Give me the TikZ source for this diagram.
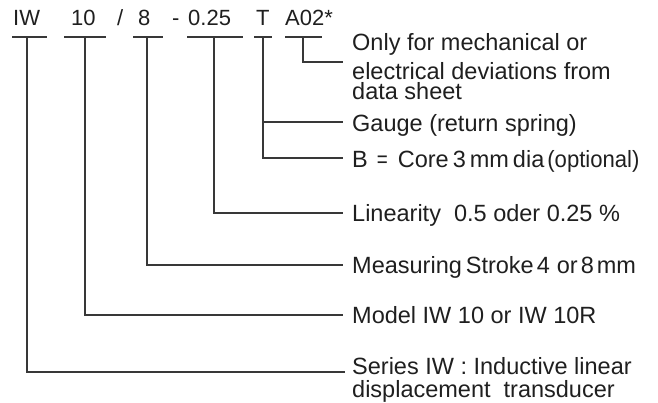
\documentclass[tikz,border=0pt]{standalone}
\usepackage{fontspec}
\usepackage{graphicx}
\setmainfont{Liberation Sans}
\begin{document}
\begin{tikzpicture}[x=1pt,y=-1pt,
  ln/.style={line width=1.2pt,draw=black!78},
  code/.style={inner sep=0pt,anchor=base west,font=\fontsize{22}{26}\selectfont,text=black!88},
  desc/.style={inner sep=0pt,anchor=base west,align=left,font=\fontsize{23.5}{24}\selectfont,text=black!88}]
\useasboundingbox (0,0) rectangle (658,403);
% top code
\node[code] (cIW)  at (13,26)  {IW};
\node[code] (c10)  at (71,26)  {10};
\node[code] (csl)  at (117,26) {/};
\node[code] (c8)   at (138,26) {8};
\node[code] (cdash) at (172,26) {-};
\node[code] (c025) at (188,26) {0.25};
\node[code] (cT)   at (256,26) {T};
\node[code] (cA)   at (285,26) {A02*};
% bars
\draw[ln] (12,37) -- (47,37);
\draw[ln] (64,37) -- (106,37);
\draw[ln] (133,37) -- (163,37);
\draw[ln] (187,37) -- (243,37);
\draw[ln] (254,37) -- (272,37);
\draw[ln] (285,37) -- (322,37);
% stem tops
\coordinate (sIW)  at (27,37);
\coordinate (s10)  at (85,37);
\coordinate (s8)   at (147,37);
\coordinate (s025) at (214,37);
\coordinate (sT)   at (263,37);
\coordinate (sA)   at (303,37);
% descriptions
\node[desc] (dA1) at (352,51)  {Only for mechanical or};
\node[desc,font=\fontsize{23.5}{20}\selectfont] (dA2) at (352,100)  {electrical deviations from\\data sheet};
\node[desc] (dG)  at (352,132) {Gauge (return spring)};
\node[desc] (dB)  at (352,168) {B\hspace{9pt}\scalebox{0.8}[1]{=}\hspace{10pt}Core\hspace{4pt}3\hspace{4pt}mm\hspace{4pt}dia\hspace{3pt}\scalebox{0.94}[1]{(optional)}};
\node[desc] (dL)  at (352,222) {Linearity\ \ 0.5 oder 0.25 \%};
\node[desc] (dM)  at (352,273) {Measuring\hspace{4pt}Stroke\hspace{3pt}4\hspace{7pt}or\hspace{3pt}8\hspace{3pt}mm};
\node[desc] (dMo) at (352,323) {Model IW 10 or IW 10R};
\node[desc,font=\fontsize{23.5}{23}\selectfont] (dS1) at (352,397) {Series IW : Inductive linear\\displacement\ \ transducer};
% line ends
\coordinate (eA)   at (343,62);
\coordinate (eG)   at (343,122);
\coordinate (eB)   at (343,158);
\coordinate (eL)   at (343,213);
\coordinate (eM)   at (343,265);
\coordinate (eMo)  at (343,315);
\coordinate (eS)   at (345,372);
% connectors
\draw[ln] (sA) |- (eA);
\draw[ln] (sT) |- (eB);
\draw[ln] (sT |- eG) -- (eG);
\draw[ln] (s025) |- (eL);
\draw[ln] (s8) |- (eM);
\draw[ln] (s10) |- (eMo);
\draw[ln] (sIW) |- (eS);
\end{tikzpicture}
\end{document}
